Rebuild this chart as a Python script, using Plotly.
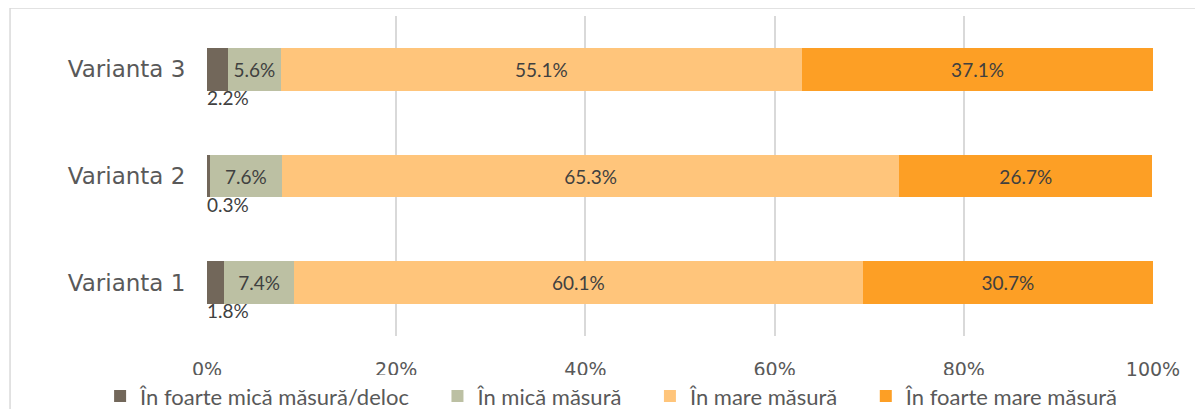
import plotly.graph_objects as go

# data
categories = ["Varianta 1", "Varianta 2", "Varianta 3"]
series_names = ["În foarte mică măsură/deloc", "În mică măsură",
                "În mare măsură", "În foarte mare măsură"]
foarte_mica = [1.8, 0.3, 2.2]
mica = [7.4, 7.6, 5.6]
mare = [60.1, 65.3, 55.1]
foarte_mare = [30.7, 26.7, 37.1]
tick_vals = [0, 20, 40, 60, 80, 100]
tick_text = ["0%", "20%", "40%", "60%", "80%", "100%"]

colors = ["#72675A", "#BCC0A3", "#FFC57B", "#FD9F25"]
label_font = dict(family="Lato, Open Sans, sans-serif", size=19, color="#404040")
pad = "\u00a0" * 4  # extra room between legend entries

fig = go.Figure()
all_series = [foarte_mica, mica, mare, foarte_mare]
for i, (name, vals) in enumerate(zip(series_names, all_series)):
    fig.add_trace(go.Bar(
        y=categories, x=vals, name=name + (pad if i < 3 else ""), orientation="h",
        marker=dict(color=colors[i], line=dict(width=0)),
        text=None if i == 0 else [f"{v:.1f}%" for v in vals],
        textposition="inside", insidetextanchor="middle",
        textangle=0, constraintext="none",
        textfont=label_font, cliponaxis=False,
    ))

# labels of the tiny first segment sit under the bar
for cat, v in zip(categories, foarte_mica):
    fig.add_annotation(x=0, y=cat, text=f"{v:.1f}%", showarrow=False,
                       xanchor="left", yanchor="middle", xshift=-2, yshift=-28,
                       font=label_font)

# outer chart border (cropped at right/bottom)
fig.add_shape(type="rect", xref="paper", yref="paper",
              x0=-0.2082, x1=1.2, y0=-0.4, y1=1.025,
              line=dict(color="#D9D9D9", width=1.5), layer="below")

fig.update_layout(
    width=1203, height=409,
    margin=dict(l=199, r=58, t=8, b=81, autoexpand=False),
    barmode="stack", bargap=0.6,
    plot_bgcolor="white", paper_bgcolor="white",
    showlegend=True,
    legend=dict(orientation="h", x=-0.113, xanchor="left",
                y=-0.188, yanchor="middle", traceorder="normal",
                font=dict(family="Lato, Open Sans, sans-serif", size=22, color="#595959"),
                itemwidth=30),
    xaxis=dict(range=[0, 100], tickvals=tick_vals, ticktext=tick_text,
               showgrid=True, gridcolor="#D9D9D9", gridwidth=1.5,
               zeroline=False, showline=False, tickangle=0,
               ticks="outside", ticklen=16, tickcolor="rgba(0,0,0,0)",
               tickfont=dict(family="DejaVu Sans", size=19, color="#595959")),
    yaxis=dict(showgrid=False, zeroline=False, showline=False,
               ticks="outside", ticklen=16, tickcolor="rgba(0,0,0,0)",
               tickfont=dict(family="DejaVu Sans", size=23, color="#595959")),
)

fig.write_html("out.html")
